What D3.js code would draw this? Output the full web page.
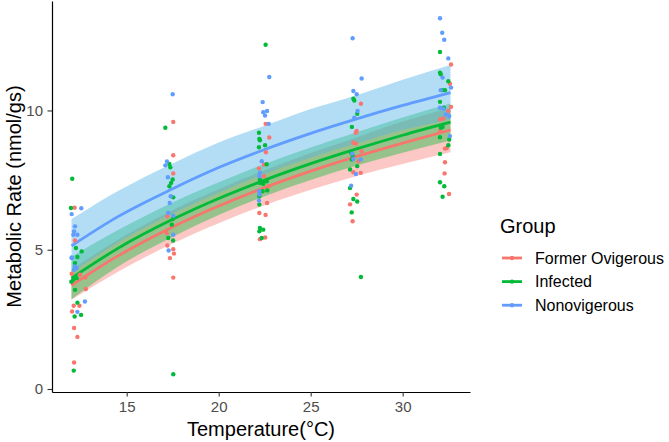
<!DOCTYPE html>
<html>
<head>
<meta charset="utf-8">
<script src="https://cdn.jsdelivr.net/npm/d3@7"></script>
<style>
  body { margin: 0; background: #fff; }
  text { font-family: "Liberation Sans", Arial, Helvetica, sans-serif; }
</style>
</head>
<body>
<div id="chart"></div>
<script>
// Groups and colours
var groups = ["Former Ovigerous", "Infected", "Nonovigerous"];
var lineColors = ["#F8766D", "#00BA38", "#619CFF"];
var ribbonColors = ["#F8766D", "#00BA38", "#56B4E9"];

// Tick labels
var xTicks = [15, 20, 25, 30];
var yTicks = [0, 5, 10];

// Fitted curves
var fitTemp = [12, 14.5, 17.5, 20, 22.5, 25, 27.5, 30, 32.6];
var formerFit  = [3.72, 4.77, 5.82, 6.57, 7.23, 7.82, 8.35, 8.83, 9.30];
var formerLow  = [3.20, 4.20, 5.22, 5.95, 6.60, 7.15, 7.65, 8.08, 8.50];
var formerHigh = [4.28, 5.35, 6.42, 7.17, 7.85, 8.47, 9.03, 9.60, 10.10];
var infectedFit  = [3.98, 5.04, 6.09, 6.84, 7.50, 8.09, 8.62, 9.11, 9.58];
var infectedLow  = [3.22, 4.38, 5.47, 6.25, 6.92, 7.50, 8.02, 8.48, 8.92];
var infectedHigh = [4.75, 5.70, 6.70, 7.42, 8.08, 8.67, 9.22, 9.75, 10.25];
var nonFit  = [5.14, 6.18, 7.19, 7.95, 8.60, 9.18, 9.70, 10.18, 10.64];
var nonLow  = [4.18, 5.25, 6.30, 7.05, 7.72, 8.30, 8.82, 9.30, 9.68];
var nonHigh = [6.10, 7.10, 8.10, 8.85, 9.45, 10.05, 10.55, 11.10, 11.63];

// Observations (jittered temperature, metabolic rate)
var formerTemp = [12.17, 12.19, 12.01, 12.46, 12.75, 12.78, 12.12, 12.43, 12.03, 12.14, 12.32, 12.14,
  17.53, 17.53, 17.53, 17.21, 17.17, 17.21, 17.53, 17.57, 17.35, 17.53,
  22.55, 22.75, 22.57, 22.46, 22.19, 22.46, 22.72, 22.63, 22.21, 22.55, 22.24, 22.53,
  27.73, 27.5, 27.45, 27.32, 27.46, 27.77, 27.59, 27.32, 27.72, 27.5, 27.14, 27.28,
  32.63, 32.57, 32.63, 32.48, 32.03, 32.21, 32.03, 32.3, 32.39, 32.3, 32.28, 32.52];
var formerRate = [6.51, 5.33, 4.14, 4.1, 4.0, 3.59, 2.99, 2.99, 2.78, 2.19, 1.87, 0.95,
  9.59, 8.39, 7.74, 6.2, 5.6, 5.15, 5.02, 4.86, 4.7, 4.0,
  9.52, 9.03, 8.5, 8.06, 7.92, 7.64, 7.28, 6.68, 6.32, 6.25, 5.38, 5.44,
  10.24, 9.26, 9.2, 8.84, 8.81, 8.54, 8.18, 7.78, 7.76, 6.98, 6.63, 6.02,
  11.65, 10.96, 10.13, 9.98, 9.68, 9.71, 9.26, 8.63, 8.65, 8.14, 7.74, 7.0];

var infectedTemp = [12.04, 11.97, 12.24, 12.55, 12.32, 12.19, 12.1, 12.28, 11.99, 12.19, 12.32, 12.17, 12.52, 12.12,
  17.1, 17.32, 17.37, 17.5, 17.41, 17.32, 17.53, 17.5, 17.45, 17.26, 17.52, 17.53,
  22.55, 22.19, 22.21, 22.24, 22.52, 22.19, 22.61, 22.24, 22.24, 22.42, 22.61, 22.64, 22.39, 22.21, 22.21, 22.24, 22.42, 22.21, 22.34,
  27.32, 27.37, 27.53, 27.24, 27.2, 27.28, 27.23, 27.53, 27.14, 27.14, 27.32, 27.53, 27.23, 27.73,
  32.03, 32.03, 32.07, 32.48, 32.15, 32.3, 32.03, 32.24, 32.08, 32.17, 32.03, 32.53, 32.48, 32.03, 32.03, 32.26, 32.17];
var infectedRate = [7.55, 6.5, 5.06, 4.94, 4.74, 4.52, 3.92, 3.98, 3.85, 3.56, 3.1, 2.6, 2.66, 0.66,
  9.38, 8.08, 7.96, 7.52, 7.4, 7.28, 6.88, 6.1, 5.9, 5.42, 5.33, 0.53,
  12.36, 9.2, 8.98, 8.93, 8.75, 8.68, 8.07, 7.52, 7.4, 7.37, 7.46, 7.13, 7.1, 6.92, 6.62, 5.78, 5.72, 5.66, 5.42,
  10.42, 10.36, 9.88, 9.41, 8.48, 8.38, 8.24, 8.0, 7.88, 7.22, 6.82, 6.73, 6.34, 4.02,
  12.1, 11.36, 11.3, 11.05, 10.73, 10.73, 10.31, 10.1, 9.38, 9.41, 9.04, 8.96, 8.75, 8.44, 7.42, 7.28, 6.9];

var nonTemp = [12.53, 12.01, 12.19, 12.14, 12.32, 12.1, 12.01, 12.01, 12.19, 12.28, 12.14, 12.73, 12.32,
  17.5, 17.19, 17.1, 17.24, 17.39, 17.34, 17.26, 17.53, 17.53, 17.28,
  22.75, 22.39, 22.42, 22.63, 22.52, 22.72, 22.34, 22.24, 22.21, 22.21, 22.19, 22.21,
  27.28, 27.77, 27.32, 27.5, 27.55, 27.37, 27.26, 27.32, 27.72, 27.46, 27.2,
  32.03, 32.15, 32.26, 32.48, 32.17, 32.63, 32.07, 32.03, 32.21, 32.35, 32.53, 32.57];
var nonRate = [6.49, 6.28, 5.84, 5.66, 5.54, 5.54, 4.72, 4.7, 4.4, 4.34, 4.28, 3.14, 2.77,
  10.58, 8.17, 8.03, 7.6, 6.92, 6.68, 6.32, 6.22, 5.54, 4.97,
  11.2, 10.3, 9.94, 9.98, 9.82, 9.52, 8.18, 7.76, 7.64, 7.1, 6.77, 6.98,
  12.59, 11.15, 10.7, 10.58, 9.98, 9.74, 8.45, 8.26, 8.24, 7.72, 7.3,
  13.31, 12.79, 12.54, 11.87, 11.18, 10.82, 10.73, 10.1, 10.06, 9.86, 9.8, 9.08];

// Build per-group tables for the library
var fits = [[formerFit, formerLow, formerHigh], [infectedFit, infectedLow, infectedHigh], [nonFit, nonLow, nonHigh]];
var obs = [[formerTemp, formerRate], [infectedTemp, infectedRate], [nonTemp, nonRate]];

var width = 669, height = 442;
var panel = {left: 52, right: 470, top: 1, bottom: 392};

var svg = d3.select('#chart')
  .append('svg')
    .attr('width', width)
    .attr('height', height);

// Scales
var x = d3.scaleLinear()
  .domain([10.94, 33.66])
  .range([panel.left, panel.right]);
var y = d3.scaleLinear()
  .domain([-0.108, 13.93])
  .range([panel.bottom, panel.top]);

// Ribbons
var area = d3.area()
  .x(d => x(d.t))
  .y0(d => y(d.lo))
  .y1(d => y(d.hi))
  .curve(d3.curveMonotoneX);

fits.forEach(function(f, i) {
  var rows = fitTemp.map((t, k) => ({t: t, lo: f[1][k], hi: f[2][k]}));
  svg.append("path")
    .datum(rows)
    .attr("d", area)
    .attr("fill", ribbonColors[i])
    .attr("fill-opacity", i == 2 ? 0.45 : 0.4);
});

// Fitted lines
var line = d3.line()
  .x(d => x(d.t))
  .y(d => y(d.v))
  .curve(d3.curveMonotoneX);

fits.forEach(function(f, i) {
  var rows = fitTemp.map((t, k) => ({t: t, v: f[0][k]}));
  svg.append("path")
    .datum(rows)
    .attr("d", line)
    .attr("fill", "none")
    .attr("stroke", lineColors[i])
    .attr("stroke-width", 2.8);
});

// Points
obs.forEach(function(o, i) {
  var rows = o[0].map((t, k) => ({t: t, v: o[1][k]}));
  svg.append("g")
    .selectAll("circle")
    .data(rows)
    .join("circle")
      .attr("cx", d => x(d.t))
      .attr("cy", d => y(d.v))
      .attr("r", 2.2)
      .attr("fill", lineColors[i]);
});

// Axes
var x_axis = svg.append("g")
  .attr("transform", `translate(0,${panel.bottom})`)
  .call(d3.axisBottom(x).tickValues(xTicks).tickSize(4.5).tickSizeOuter(0).tickPadding(5));
var y_axis = svg.append("g")
  .attr("transform", `translate(${panel.left},0)`)
  .call(d3.axisLeft(y).tickValues(yTicks).tickSize(4.5).tickSizeOuter(0).tickPadding(4.5));

[x_axis, y_axis].forEach(function(a) {
  a.select(".domain").attr("stroke", "#000").attr("stroke-width", 1.2);
  a.selectAll(".tick line").attr("stroke", "#333").attr("stroke-width", 1.1);
  a.selectAll(".tick text")
    .attr("fill", "#4D4D4D")
    .style("font-size", "15px")
    .style("font-family", '"Liberation Sans", Arial, sans-serif');
});

// Axis titles
svg.append("text")
  .attr("x", (panel.left + panel.right) / 2)
  .attr("y", 436)
  .attr("text-anchor", "middle")
  .style("font-size", "20px")
  .text("Temperature(°C)");

svg.append("text")
  .attr("transform", `translate(21,${(panel.top + panel.bottom) / 2}) rotate(-90)`)
  .attr("text-anchor", "middle")
  .style("font-size", "20px")
  .text("Metabolic Rate (nmol/gs)");

// Legend
var legend = svg.append("g");
legend.append("text")
  .attr("x", 500)
  .attr("y", 233)
  .style("font-size", "20px")
  .text("Group");

groups.forEach(function(g, i) {
  var ly = 258 + i * 23.6;
  legend.append("line")
    .attr("x1", 502).attr("x2", 522)
    .attr("y1", ly).attr("y2", ly)
    .attr("stroke", lineColors[i])
    .attr("stroke-width", 2.8);
  legend.append("circle")
    .attr("cx", 512).attr("cy", ly)
    .attr("r", 2.2)
    .attr("fill", lineColors[i]);
  legend.append("text")
    .attr("x", 535)
    .attr("y", ly)
    .attr("dy", "0.35em")
    .style("font-size", "16px")
    .text(g);
});
</script>
</body>
</html>
